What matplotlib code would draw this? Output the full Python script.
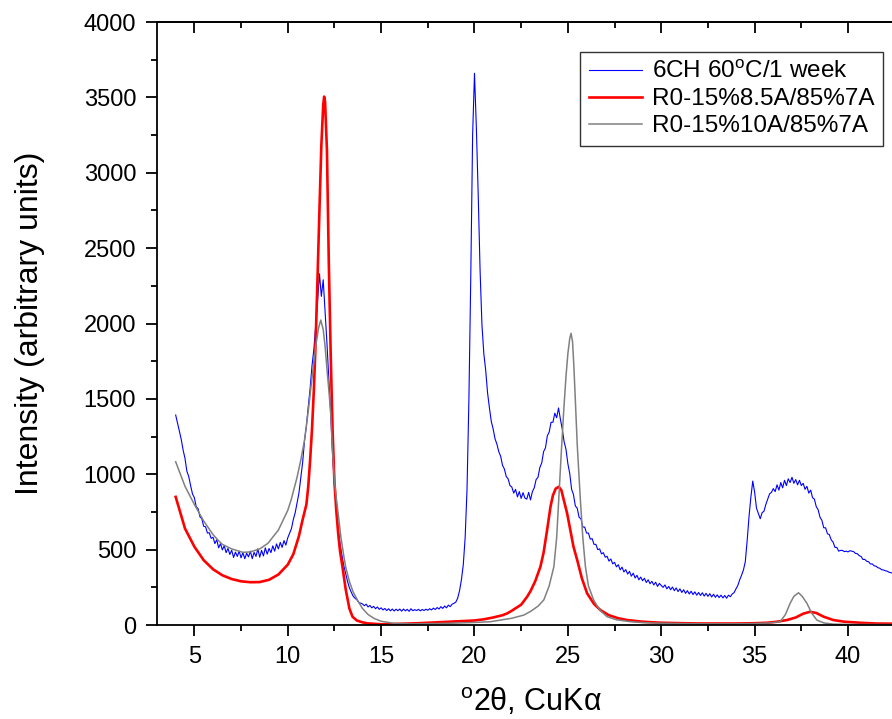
"""XRD pattern: 6CH sample vs two simulated R0 mixed-layer patterns."""

import matplotlib
matplotlib.use("Agg")
import matplotlib.pyplot as plt
from matplotlib.ticker import MultipleLocator
import numpy as np

plt.rcParams["font.family"] = ["Liberation Sans", "DejaVu Sans"]
plt.rcParams["mathtext.fontset"] = "custom"
plt.rcParams["mathtext.rm"] = "Liberation Sans"

# ============================================================
# data
# ============================================================
# 6CH 60C/1 week, sampled every 0.1 deg 2theta from 4.0 to 42.9
blue_x = np.round(np.arange(4.0, 42.95, 0.1), 1)
blue_y = [
    1393, 1340, 1285, 1230, 1160, 1105, 1020, 985, 925, 870,
    845, 785, 772, 718, 705, 655, 652, 610, 612, 575,
    582, 540, 566, 512, 540, 498, 526, 480, 508, 468,
    496, 448, 484, 455, 490, 446, 480, 440, 476, 452,
    490, 440, 482, 455, 505, 450, 495, 458, 512, 470,
    508, 480, 525, 490, 538, 505, 548, 515, 560, 530,
    578, 610, 640, 700, 745, 810, 875, 975, 1080, 1225,
    1320, 1450, 1570, 1720, 1830, 1990, 2150, 2330, 2180, 2290,
    2080, 1870, 1640, 1400, 1130, 930, 790, 640, 540, 465,
    395, 343, 290, 248, 218, 192, 178, 168, 150, 145,
    140, 128, 138, 120, 130, 114, 124, 108, 120, 104,
    114, 100, 110, 96, 108, 94, 106, 93, 105, 95,
    106, 92, 106, 94, 104, 91, 108, 95, 102, 96,
    104, 94, 103, 96, 105, 98, 108, 100, 112, 103,
    116, 106, 122, 110, 126, 114, 132, 122, 138, 144,
    152, 178, 228, 300, 400, 580, 900, 1490, 2300, 3250,
    3660, 3300, 2850, 2350, 1990, 1800, 1690, 1540, 1440, 1350,
    1300, 1235, 1200, 1150, 1120, 1060, 1035, 985, 970, 925,
    915, 875, 900, 850, 885, 840, 878, 842, 835, 880,
    830, 885, 910, 965, 980, 1045, 1075, 1150, 1175, 1255,
    1280, 1345, 1345, 1405, 1375, 1440, 1365, 1300, 1215, 1165,
    1070, 1005, 900, 865, 790, 775, 715, 705, 650, 650,
    610, 610, 570, 573, 535, 535, 500, 505, 472, 480,
    450, 456, 424, 438, 406, 416, 386, 400, 366, 384,
    352, 368, 338, 356, 324, 344, 312, 330, 300, 318,
    294, 310, 282, 300, 274, 290, 266, 284, 256, 276,
    262, 250, 266, 240, 256, 234, 252, 228, 246, 222,
    240, 216, 234, 210, 228, 206, 224, 202, 220, 198,
    216, 196, 214, 192, 210, 190, 208, 186, 204, 184,
    200, 182, 198, 180, 196, 178, 198, 188, 206, 215,
    240, 262, 300, 330, 365, 420, 560, 720, 850, 955,
    880, 775, 740, 705, 745, 755, 800, 835, 870, 880,
    905, 885, 930, 895, 945, 910, 960, 925, 970, 945,
    980, 940, 965, 930, 960, 925, 940, 900, 920, 875,
    895, 845, 835, 785, 765, 715, 695, 645, 645, 605,
    600, 565, 550, 515, 515, 490, 495, 495, 487, 490,
    485, 493, 490, 487, 475, 473, 460, 455, 435, 435,
    423, 420, 405, 405, 393, 390, 380, 377, 367, 365,
    360, 357, 350, 347, 343, 340, 335, 333, 330, 327,
]

# R0-15%8.5A/85%7A
red_x = [4.0, 4.5, 5.0, 5.5, 6.0, 6.5, 7.0, 7.5, 8.0, 8.5, 9.0, 9.5, 10.0,
         10.3, 10.6, 10.8, 11.0, 11.1, 11.2, 11.3, 11.4, 11.5, 11.6, 11.7,
         11.8, 11.9, 11.95, 12.0, 12.1, 12.2, 12.3, 12.4, 12.5, 12.6, 12.7,
         12.8, 12.93, 13.1, 13.3, 13.47, 13.7, 14.0, 14.27, 15.0, 16.0, 17.0,
         18.0, 19.0, 20.0, 20.5, 21.0, 21.5, 21.75, 22.0, 22.5, 22.82, 23.0,
         23.25, 23.53, 23.7, 23.9, 24.07, 24.2, 24.35, 24.51, 24.65, 24.8,
         24.96, 25.1, 25.3, 25.5, 25.75, 26.03, 26.4, 26.74, 27.2, 27.7,
         28.17, 29.0, 30.0, 32.0, 34.0, 35.0, 35.66, 36.2, 36.73, 37.2,
         37.6, 37.97, 38.3, 38.7, 39.22, 39.8, 40.65, 41.5, 43.0]
red_y = [850, 640, 520, 430, 370, 330, 305, 290, 284, 285, 300, 335, 400,
         470, 590, 700, 800, 920, 1094, 1300, 1560, 1900, 2320, 2760,
         3180, 3450, 3505, 3470, 3150, 2400, 1800, 1300, 950, 760, 610,
         490, 387, 240, 110, 55, 30, 18, 11, 5, 8, 12,
         18, 24, 30, 38, 50, 65, 77, 95, 135, 188, 225,
         290, 387, 480, 640, 785, 860, 905, 917, 895, 820,
         741, 650, 520, 431, 310, 210, 140, 99, 65, 45,
         33, 22, 15, 10, 10, 12, 15, 22, 33, 50,
         75, 88, 80, 55, 33, 22, 15, 10, 8]

# R0-15%10A/85%7A
gray_x = [4.0, 4.5, 5.0, 5.5, 6.0, 6.26, 6.5, 7.0, 7.6, 8.0, 8.5, 8.94, 9.5,
          10.0, 10.18, 10.5, 10.7, 10.9, 11.1, 11.3, 11.5, 11.65, 11.77,
          11.9, 12.0, 12.1, 12.2, 12.3, 12.4, 12.5, 12.57, 12.7, 12.85,
          13.0, 13.1, 13.3, 13.5, 13.73, 14.0, 14.3, 14.62, 15.0, 15.69,
          16.5, 18.0, 19.0, 20.0, 20.86, 21.5, 22.0, 22.64, 23.0, 23.4,
          23.71, 24.0, 24.25, 24.4, 24.51, 24.65, 24.78, 24.9, 25.0, 25.1,
          25.17, 25.25, 25.32, 25.4, 25.5, 25.67, 25.8, 25.94, 26.1, 26.38,
          26.7, 27.1, 27.6, 28.35, 29.0, 30.0, 32.0, 34.0, 35.0, 35.8,
          36.37, 36.65, 36.9, 37.1, 37.35, 37.55, 37.8, 38.05, 38.33, 38.7,
          39.2, 40.0, 43.0]
gray_y = [1083, 920, 800, 690, 600, 564, 535, 505, 482, 485, 505, 542, 630,
          760, 829, 980, 1094, 1227, 1420, 1640, 1850, 1970, 2023,
          1960, 1850, 1700, 1560, 1406, 1150, 960, 874, 740, 580,
          460, 387, 290, 220, 166, 110, 70, 44, 25, 11,
          8, 10, 13, 17, 22, 35, 45, 66, 90, 125,
          166, 260, 387, 580, 829, 1150, 1426, 1650, 1800, 1900,
          1935, 1880, 1720, 1492, 1200, 829, 580, 387, 260, 166,
          100, 55, 35, 22, 16, 12, 8, 8, 10, 14,
          22, 70, 144, 190, 214, 190, 144, 80, 33, 14,
          6, 4, 3]

labels = ["6CH 60$^{\\mathregular{o}}$C/1 week",
          "R0-15%8.5A/85%7A",
          "R0-15%10A/85%7A"]

# ============================================================
# plot
# ============================================================
fig = plt.figure(figsize=(8.92, 7.19), dpi=100)
# the right edge of the frame lies just outside the picture, as in the reference
ax = fig.add_axes([0.1760, 0.1307, 0.8375, 0.8387])

ax.plot(blue_x, blue_y, color="#0000ff", linewidth=0.8, label=labels[0])
ax.plot(red_x, red_y, color="#ff0000", linewidth=1.9, label=labels[1])
ax.plot(gray_x, gray_y, color="#808080", linewidth=1.1, label=labels[2])

ax.set_xlim(3, 43)
ax.set_ylim(0, 4000)
ax.set_xticks([5, 10, 15, 20, 25, 30, 35, 40])
ax.xaxis.set_minor_locator(MultipleLocator(2.5))
ax.yaxis.set_major_locator(MultipleLocator(500))
ax.yaxis.set_minor_locator(MultipleLocator(250))

for sp in ax.spines.values():
    sp.set_linewidth(1.3)

ax.tick_params(which="major", direction="out", length=8, width=1.3,
               labelsize=17, pad=7)
ax.tick_params(which="minor", direction="out", length=4, width=1.3)

top = ax.secondary_xaxis("top")
top.set_xticks([5, 10, 15, 20, 25, 30, 35, 40])
top.xaxis.set_minor_locator(MultipleLocator(2.5))
top.tick_params(which="major", direction="in", length=8, width=1.3,
                labeltop=False)
top.tick_params(which="minor", direction="in", length=4, width=1.3)
top.spines["top"].set_linewidth(1.3)

ax.set_xlabel("$^{\\mathregular{o}}$2θ, CuKα", fontsize=22, labelpad=13)
ax.set_ylabel("Intensity (arbitrary units)", fontsize=23, labelpad=28)

leg = ax.legend(loc="upper left", bbox_to_anchor=(580 / 892, 1 - 52 / 719),
                bbox_transform=fig.transFigure, fontsize=17.5,
                frameon=True, fancybox=False, handlelength=2.2,
                handletextpad=0.4, labelspacing=0.2, borderpad=0.35,
                borderaxespad=0)
leg.get_frame().set_edgecolor("black")
leg.get_frame().set_linewidth(1.0)

fig.savefig("out.png", dpi=100)
